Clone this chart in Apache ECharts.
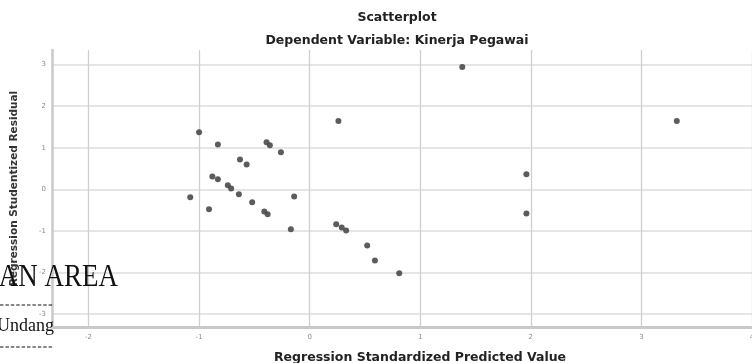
<!DOCTYPE html>
<html>
<head>
<meta charset="utf-8">
<script src="https://cdn.jsdelivr.net/npm/echarts@6/dist/echarts.min.js"></script>
<style>
  html, body { margin: 0; padding: 0; background: #fff; }
  #chart { width: 752px; height: 363px; }
</style>
</head>
<body>
<div id="chart"></div>
<script>
// standardized predicted value (x) and studentized residual (y)
const predicted = [
  -1.00, -0.83, -0.63, -0.57, -0.39, -0.36, -0.26, 0.26, -0.88, -0.83,
  1.38, 3.32, 1.96, -1.08, -0.91, -0.74, -0.71, -0.64, -0.52, -0.41,
  -0.38, -0.14, -0.17, 0.24, 0.29, 0.33, 0.52, 0.59, 1.96, 0.81
]
const residual = [
  1.37, 1.08, 0.72, 0.60, 1.13, 1.06, 0.89, 1.64, 0.31, 0.24,
  2.94, 1.64, 0.36, -0.19, -0.48, 0.10, 0.02, -0.12, -0.31, -0.53,
  -0.60, -0.17, -0.96, -0.84, -0.92, -0.99, -1.35, -1.71, -0.58, -2.02
]
const xRange = [-2.33, 4.0]
const yRange = [-3.31, 3.35]

const chart = echarts.init(document.getElementById('chart'))
const sans = 'DejaVu Sans'
const serif = 'Liberation Serif'

const option = {
  backgroundColor: '#fff',
  animation: false,
  title: [
    {
      text: 'Scatterplot',
      left: 397,
      top: 11,
      textAlign: 'center',
      padding: 0,
      textStyle: { fontFamily: sans, fontSize: 12.5, fontWeight: 'bold', color: '#222' },
    },
    {
      text: 'Dependent Variable: Kinerja Pegawai',
      left: 397,
      top: 34,
      textAlign: 'center',
      padding: 0,
      textStyle: { fontFamily: sans, fontSize: 12.5, fontWeight: 'bold', color: '#222' },
    },
  ],
  grid: {
    left: 52,
    top: 50,
    right: 0,
    height: 277,
    outerBoundsMode: 'none',
  },
  xAxis: {
    type: 'value',
    min: xRange[0],
    max: xRange[1],
    name: 'Regression Standardized Predicted Value',
    nameLocation: 'middle',
    nameGap: 24,
    nameTextStyle: {
      fontFamily: sans,
      fontSize: 12.5,
      fontWeight: 'bold',
      color: '#222',
      padding: [0, 0, 0, 36],
    },
    axisLine: { onZero: false, lineStyle: { color: '#c9c9c9', width: 3 } },
    axisTick: { show: false },
    axisLabel: {
      showMinLabel: false,
      color: '#8a8a8a',
      fontFamily: sans,
      fontSize: 7,
      margin: 7,
    },
    splitLine: {
      show: true,
      showMinLine: false,
      lineStyle: { color: '#cfcfcf', width: 1.3 },
    },
  },
  yAxis: {
    type: 'value',
    min: yRange[0],
    max: yRange[1],
    name: 'Regression Studentized Residual',
    nameLocation: 'middle',
    nameGap: 32,
    nameTextStyle: {
      fontFamily: sans,
      fontSize: 10.5,
      fontWeight: 'bold',
      color: '#333',
    },
    axisLine: { show: true, onZero: false, lineStyle: { color: '#c9c9c9', width: 2.5 } },
    axisTick: { show: false },
    axisLabel: {
      showMinLabel: false,
      showMaxLabel: false,
      color: '#8a8a8a',
      fontFamily: sans,
      fontSize: 7,
      margin: 6,
    },
    splitLine: {
      show: true,
      showMinLine: false,
      showMaxLine: false,
      lineStyle: { color: '#dcdcdc', width: 1.6 },
    },
  },
  series: [
    {
      type: 'scatter',
      symbol: 'circle',
      symbolSize: 6,
      itemStyle: { color: '#4a4a4a', opacity: 0.9 },
      data: predicted.map((x, i) => [x, residual[i]]),
    },
  ],
  graphic: [
    {
      type: 'text',
      z: 100,
      right: 752 - 118,
      top: 261,
      style: { text: 'AN AREA', font: '27px "' + serif + '"', fill: '#111' },
      scaleY: 1.2,
    },
    {
      type: 'line',
      z: 100,
      shape: { x1: 0, y1: 305, x2: 54, y2: 305 },
      style: { stroke: '#111', lineWidth: 1, lineDash: [3.5, 1.9] },
    },
    {
      type: 'text',
      z: 100,
      right: 752 - 54,
      top: 317,
      style: { text: 'Undang', font: '18px "' + serif + '"', fill: '#111' },
    },
    {
      type: 'line',
      z: 100,
      shape: { x1: 0, y1: 347, x2: 54, y2: 347 },
      style: { stroke: '#111', lineWidth: 1, lineDash: [3.5, 1.9] },
    },
  ],
}

chart.setOption(option)
</script>
</body>
</html>
